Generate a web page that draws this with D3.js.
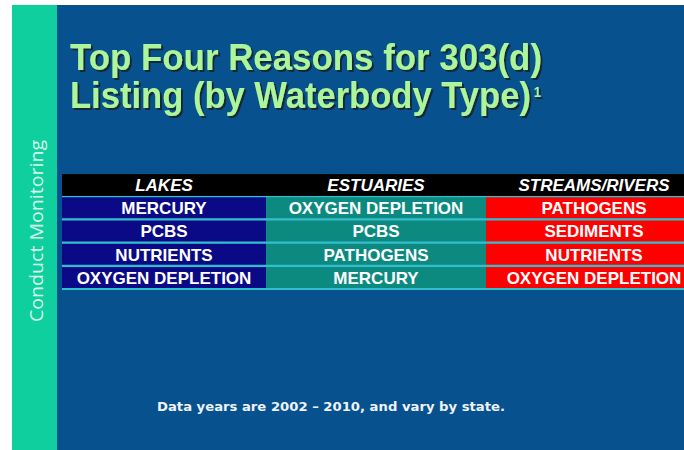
<!DOCTYPE html>
<html>
<head>
<meta charset="utf-8">
<script src="https://cdn.jsdelivr.net/npm/d3@7"></script>
<style>
  html, body { margin: 0; padding: 0; background: #fff; }
  svg { display: block; }
</style>
</head>
<body>
<div id="app"></div>
<script>
//======
// Data
//======
var titleLines = ["Top Four Reasons for 303(d)", "Listing (by Waterbody Type)"];
var titleNotes = ["", "1"];
var sideLabel = "Conduct Monitoring";
var footNote = "Data years are 2002 \u2013 2010, and vary by state.";

var waterbodies = ["LAKES", "ESTUARIES", "STREAMS/RIVERS"];
var ranks = [1, 2, 3, 4];
var lakes = ["MERCURY", "PCBS", "NUTRIENTS", "OXYGEN DEPLETION"];
var estuaries = ["OXYGEN DEPLETION", "PCBS", "PATHOGENS", "MERCURY"];
var streams = ["PATHOGENS", "SEDIMENTS", "NUTRIENTS", "OXYGEN DEPLETION"];

//========
// Layout
//========
var width = 684, height = 450;
var colors = {
  page: "#ffffff",
  strip: "#10cf9f",
  panel: "#08518f",
  header: "#000000",
  rule: "#33bccb",
  title: "#adf59a",
  shadow: "#16222e",
  side: "#d5f7ea",
  foot: "#eef3f8"
};
var cellFill = { "LAKES": "#0a0a86", "ESTUARIES": "#0d8a80", "STREAMS/RIVERS": "#ff0000" };

var svg = d3.select("#app").append("svg")
  .attr("width", width)
  .attr("height", height);

var defs = svg.append("defs");
defs.append("filter")
  .attr("id", "shadow")
  .attr("x", "-5%").attr("y", "-20%")
  .attr("width", "110%").attr("height", "140%")
  .append("feDropShadow")
  .attr("dx", 2).attr("dy", 2)
  .attr("stdDeviation", 0.6)
  .attr("flood-color", colors.shadow)
  .attr("flood-opacity", 0.9);

svg.append("rect").attr("width", width).attr("height", height).attr("fill", colors.page);
svg.append("rect").attr("x", 12).attr("y", 5).attr("width", 46).attr("height", height - 5).attr("fill", colors.strip);
svg.append("rect").attr("x", 57).attr("y", 5).attr("width", width - 57).attr("height", height - 5).attr("fill", colors.panel);

// side label
svg.append("text")
  .attr("transform", "translate(43,231) rotate(-90)")
  .attr("text-anchor", "middle")
  .attr("font-family", "'Open Sans', 'Noto Sans', sans-serif")
  .attr("font-size", 19)
  .attr("fill", colors.side)
  .attr("textLength", 182)
  .attr("lengthAdjust", "spacingAndGlyphs")
  .text(sideLabel);

// title with drop shadow, superscript note kept inside the line
var titleW = [472, 471];
var titleY = d3.scaleOrdinal().domain(titleLines).range([70, 108]);
var title = svg.append("g").attr("filter", "url(#shadow)");

var tl = title.selectAll("text.t")
  .data(titleLines)
  .enter().append("text")
  .attr("class", "t")
  .attr("x", 70)
  .attr("y", function(d) { return titleY(d); })
  .attr("font-family", "'Liberation Sans', Arial, sans-serif")
  .attr("font-weight", "bold")
  .attr("font-size", 37)
  .attr("fill", colors.title)
  .attr("textLength", function(d, i) { return titleW[i]; })
  .attr("lengthAdjust", "spacingAndGlyphs");

tl.append("tspan").text(function(d) { return d; });
tl.filter(function(d, i) { return titleNotes[i]; })
  .append("tspan")
  .attr("dx", 3)
  .attr("dy", -11)
  .attr("font-size", 14)
  .text(function(d, i) { return titleNotes[titleLines.indexOf(d)]; });

//=======
// Table
//=======
var colX = d3.scaleOrdinal().domain(waterbodies).range([62, 266, 486]);
var colW = d3.scaleOrdinal().domain(waterbodies).range([204, 220, 216]);
var rowY = d3.scaleBand()
  .domain(["head"].concat(ranks))
  .range([174, 288])
  .paddingInner(0.1);

var table = svg.append("g");

table.append("rect")
  .attr("x", colX(waterbodies[0]))
  .attr("y", rowY("head") + rowY.bandwidth())
  .attr("width", width - colX(waterbodies[0]))
  .attr("height", 288 + 2 - rowY("head") - rowY.bandwidth())
  .attr("fill", colors.rule);

table.append("rect")
  .attr("x", colX(waterbodies[0]))
  .attr("y", rowY("head"))
  .attr("width", width - colX(waterbodies[0]))
  .attr("height", rowY.bandwidth() + 1)
  .attr("fill", colors.header);

table.selectAll("text.head")
  .data(waterbodies)
  .enter().append("text")
  .attr("class", "head")
  .attr("x", function(d) { return colX(d) + colW(d) / 2; })
  .attr("y", rowY("head") + rowY.bandwidth() / 2 + 0.5)
  .attr("dy", "0.36em")
  .attr("text-anchor", "middle")
  .attr("font-family", "'Liberation Sans', Arial, sans-serif")
  .attr("font-weight", "bold")
  .attr("font-style", "italic")
  .attr("font-size", 17)
  .attr("fill", "#ffffff")
  .text(function(d) { return d; });

var cells = [];
[lakes, estuaries, streams].forEach(function(list, c) {
  list.forEach(function(v, r) {
    cells.push({ col: waterbodies[c], rank: ranks[r], label: v });
  });
});

var cell = table.selectAll("g.cell")
  .data(cells)
  .enter().append("g")
  .attr("class", "cell");

cell.append("rect")
  .attr("x", function(d) { return colX(d.col); })
  .attr("y", function(d) { return rowY(d.rank); })
  .attr("width", function(d) { return colW(d.col); })
  .attr("height", rowY.bandwidth())
  .attr("fill", function(d) { return cellFill[d.col]; });

cell.append("text")
  .attr("x", function(d) { return colX(d.col) + colW(d.col) / 2; })
  .attr("y", function(d) { return rowY(d.rank) + rowY.bandwidth() / 2; })
  .attr("dy", "0.37em")
  .attr("text-anchor", "middle")
  .attr("font-family", "'Liberation Sans', Arial, sans-serif")
  .attr("font-weight", "bold")
  .attr("font-size", 17)
  .attr("fill", "#ffffff")
  .text(function(d) { return d.label; });

// foot note
svg.append("text")
  .attr("x", 331)
  .attr("y", 411)
  .attr("text-anchor", "middle")
  .attr("font-family", "'DejaVu Sans', Verdana, sans-serif")
  .attr("font-weight", "bold")
  .attr("font-size", 13)
  .attr("fill", colors.foot)
  .attr("textLength", 348)
  .attr("lengthAdjust", "spacingAndGlyphs")
  .text(footNote);
</script>
</body>
</html>
